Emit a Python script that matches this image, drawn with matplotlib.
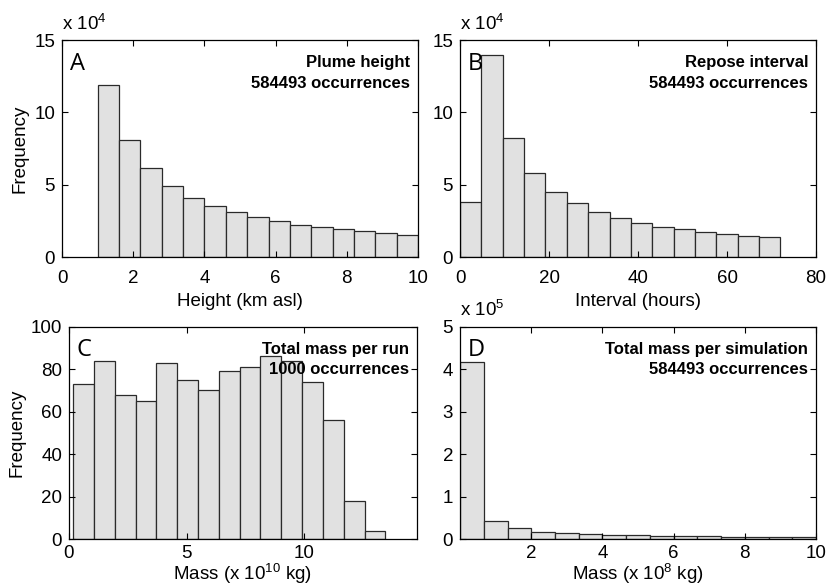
import matplotlib
matplotlib.use("Agg")
import matplotlib.pyplot as plt
import numpy as np

plt.rcParams["font.family"] = ["Liberation Sans", "DejaVu Sans"]
plt.rcParams["mathtext.fontset"] = "custom"
plt.rcParams["mathtext.rm"] = "Liberation Sans"
plt.rcParams["mathtext.it"] = "Liberation Sans"

# ---- data (frequencies, in displayed units) ----
# A: plume height, bins 1..10 km, counts x 10^4
height_start = 1.0
height_bin_w = 0.6
height_counts = [11.9, 8.08, 6.16, 4.92, 4.11, 3.53, 3.12, 2.77, 2.52, 2.24,
                 2.08, 1.94, 1.80, 1.66, 1.55]

# B: repose interval, bins 0..72 h, counts x 10^4
interval_start = 0.0
interval_bin_w = 4.8
interval_counts = [3.81, 14.0, 8.24, 5.82, 4.52, 3.72, 3.12, 2.70, 2.35, 2.10,
                   1.92, 1.75, 1.59, 1.48, 1.38]

# C: total mass per run, mass x 10^10 kg, counts (1000 runs)
run_mass_start = 0.18
run_mass_bin_w = 0.885
run_mass_counts = [73, 84, 68, 65, 83, 75, 70, 79, 81, 86, 84, 74, 56, 18, 4]

# D: total mass per simulation, mass x 10^8 kg, counts x 10^5
sim_mass_start = 0.0
sim_mass_bin_w = 10.0 / 15
sim_mass_counts = [4.18, 0.43, 0.26, 0.18, 0.15, 0.125, 0.10, 0.095, 0.08, 0.08,
                   0.07, 0.06, 0.06, 0.05, 0.05]

BAR_FC = "#e1e1e1"
BAR_EC = "#2a2a2a"


def _hist_panel(ax, start, width, counts, *, xlim, ylim, xticks, yticks,
                letter, title, n_occ, xlabel, ylabel=None, exponent=None,
                xpad=6, xlabelpad=3):
    counts = np.asarray(counts, dtype=float)
    lefts = start + width * np.arange(len(counts))
    ax.bar(lefts, counts, width=width, align="edge", color=BAR_FC,
           edgecolor=BAR_EC, linewidth=0.9)
    ax.set_xlim(*xlim)
    ax.set_ylim(*ylim)
    ax.set_xticks(xticks)
    ax.set_yticks(yticks)
    ax.tick_params(direction="in", top=True, right=True, length=4, width=0.8,
                   labelsize=13.5)
    ax.tick_params(axis="x", pad=xpad)
    ax.tick_params(axis="y", pad=5)
    for s in ax.spines.values():
        s.set_linewidth(0.9)
    ax.set_xlabel(xlabel, fontsize=13.5, labelpad=xlabelpad)
    if ylabel:
        ax.set_ylabel(ylabel, fontsize=13.5, labelpad=4)
    ax.text(0.022, 0.945, letter, transform=ax.transAxes, ha="left", va="top",
            fontsize=17, family=["Open Sans", "DejaVu Sans"])
    ax.text(0.978, 0.93, title, transform=ax.transAxes, ha="right", va="top",
            fontsize=12, fontweight="bold")
    ax.text(0.978, 0.835, f"{n_occ} occurrences", transform=ax.transAxes,
            ha="right", va="top", fontsize=12, fontweight="bold")
    if exponent is not None:
        ax.text(0.0, 1.03, rf"x 10$^{{{exponent}}}$", transform=ax.transAxes,
                ha="left", va="bottom", fontsize=13.5)


fig = plt.figure(figsize=(8.28, 5.88), dpi=100)
axA = fig.add_axes([0.0749, 0.5629, 0.430, 0.369])
axB = fig.add_axes([0.5556, 0.5629, 0.430, 0.369])
axC = fig.add_axes([0.0833, 0.0828, 0.4203, 0.3616])
axD = fig.add_axes([0.5556, 0.0828, 0.430, 0.3616])

_hist_panel(axA, height_start, height_bin_w, height_counts,
            xlim=(0, 10), ylim=(0, 15), xticks=range(0, 11, 2), yticks=[0, 5, 10, 15],
            letter="A", title="Plume height", n_occ=584493,
            xlabel="Height (km asl)", ylabel="Frequency", exponent=4,
            xpad=9, xlabelpad=5)
_hist_panel(axB, interval_start, interval_bin_w, interval_counts,
            xlim=(0, 80), ylim=(0, 15), xticks=range(0, 81, 20), yticks=[0, 5, 10, 15],
            letter="B", title="Repose interval", n_occ=584493,
            xlabel="Interval (hours)", exponent=4,
            xpad=9, xlabelpad=5)
_hist_panel(axC, run_mass_start, run_mass_bin_w, run_mass_counts,
            xlim=(0, 14.8), ylim=(0, 100), xticks=[0, 5, 10], yticks=range(0, 101, 20),
            letter="C", title="Total mass per run", n_occ=1000,
            xlabel=r"Mass (x 10$^{10}$ kg)", ylabel="Frequency",
            xpad=4, xlabelpad=0)
_hist_panel(axD, sim_mass_start, sim_mass_bin_w, sim_mass_counts,
            xlim=(0, 10), ylim=(0, 5), xticks=[2, 4, 6, 8, 10], yticks=range(0, 6),
            letter="D", title="Total mass per simulation", n_occ=584493,
            xlabel=r"Mass (x 10$^{8}$ kg)", exponent=5,
            xpad=4, xlabelpad=0)

fig.savefig("out.png", dpi=100)
plt.close(fig)
